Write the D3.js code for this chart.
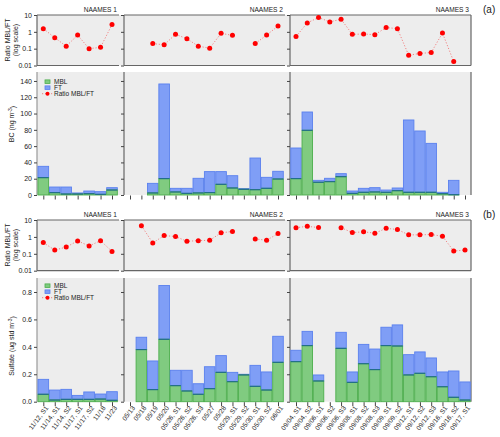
<!DOCTYPE html>
<html><head><meta charset="utf-8">
<script src="https://cdn.jsdelivr.net/npm/d3@7"></script>
<style>
body{margin:0;background:#fff}
svg{display:block}
text{font-family:"Liberation Sans",Arial,Helvetica,sans-serif;fill:#222}
</style>
</head><body><svg id="c" width="500" height="437"></svg>
<script>
// ---------------- DATA ----------------
const campaigns = ["NAAMES 1","NAAMES 2","NAAMES 3"];
const dates1 = ["11/12, S1","11/14, S1","11/14, S2","11/17, S1","11/17, S2","11/18","11/23"];
const dates2 = ["05/13","05/18","05/19","05/20","05/26, S1","05/26, S2","05/26, S3","05/27","05/28","05/29, S1","05/29, S2","05/30, S1","05/30, S2","06/01"];
const dates3 = ["09/04, S1","09/04, S2","09/06, S1","09/06, S2","09/06, S3","09/08, S1","09/08, S2","09/08, S3","09/09, S1","09/09, S2","09/12, S1","09/12, S2","09/12, S3","09/16, S1","09/16, S2","09/17, S1"];

// (a) Black carbon, ng m-3
const bcMBL1 = [21.3, 2.9, 1.2, 1.2, 1.6, 0.8, 6.1];
const bcFT1  = [13.9, 6.9, 8.6, 1.3, 3.3, 3.3, 2.9];
const bcRatio1 = [1.55, 0.45, 0.14, 0.64, 0.10, 0.12, 2.7];
const bcMBL2 = [null, null, 2.5, 20.1, 3.7, 2.0, 2.5, 2.9, 13.1, 8.6, 7.0, 6.5, 8.2, 19.6];
const bcFT2  = [null, null, 11.8, 116.2, 4.5, 6.2, 18.0, 25.8, 15.6, 15.1, 0.8, 38.9, 13.5, 9.5];
const bcRatio2 = [null, null, 0.20, 0.17, 0.71, 0.39, 0.14, 0.107, 0.81, 0.62, null, 0.20, 0.64, 2.2];
const bcMBL3 = [20.1, 79.4, 15.6, 16.4, 22.5, 2.0, 3.3, 3.7, 3.3, 5.3, 3.3, 3.3, 3.3, 1.6, 0.4, null];
const bcFT3  = [37.6, 22.5, 2.4, 4.1, 3.7, 2.9, 4.9, 5.3, 2.8, 3.3, 88.8, 75.3, 60.1, 1.7, 17.6, null];
const bcRatio3 = [0.52, 3.4, 7.1, 3.9, 5.6, 0.71, 0.74, 0.68, 1.8, 1.55, 0.041, 0.052, 0.059, 0.85, 0.017, null];

// (b) Sulfate, ug std m-3
const so4MBL1 = [0.054, 0.012, 0.017, 0.017, 0.017, 0.019, 0.010];
const so4FT1  = [0.109, 0.073, 0.073, 0.029, 0.054, 0.037, 0.063];
const so4Ratio1 = [0.46, 0.166, 0.25, 0.58, 0.29, 0.60, 0.138];
const so4MBL2 = [null, 0.38, 0.088, 0.455, 0.117, 0.078, 0.054, 0.095, 0.214, 0.146, 0.195, 0.112, 0.085, 0.287];
const so4FT2  = [null, 0.09, 0.209, 0.392, 0.112, 0.151, 0.077, 0.16, 0.122, 0.068, 0.005, 0.153, 0.132, 0.19];
const so4Ratio2 = [null, 4.6, 0.44, 1.2, 1.05, 0.55, 0.60, 0.63, 1.74, 2.1, null, 0.76, 0.63, 1.58];
const so4MBL3 = [0.292, 0.409, 0.151, null, 0.389, 0.141, 0.277, 0.234, 0.409, 0.406, 0.195, 0.207, 0.182, 0.109, 0.032, 0.012];
const so4FT3  = [0.083, 0.104, 0.044, null, 0.117, 0.076, 0.141, 0.15, 0.134, 0.154, 0.148, 0.156, 0.137, 0.108, 0.192, 0.132];
const so4Ratio3 = [3.5, 4.2, 3.6, null, 3.5, 1.8, 2.0, 1.66, 3.2, 2.75, 1.32, 1.32, 1.38, 1.1, 0.145, 0.166];

const ratioTicks = [0.01, 0.1, 1, 10];
const bcTicks = [0, 20, 40, 60, 80, 100, 120, 140];
const so4Ticks = [0.0, 0.2, 0.4, 0.6, 0.8];
const legendLabels = ["MBL", "FT", "Ratio MBL/FT"];

// ---------------- LAYOUT ----------------
const svg = d3.select("#c");
const BG = "#ededed", FRAME = "#666";
const GREEN = "#80cb80", GREEN_S = "#4cae4c", BLUE = "#7f9ef6", BLUE_S = "#5a80ee", SEAM = "#1f6a8c";
const cols = [
  {x0: 37, x1: 124, first: 43.3, last: 112, dates: dates1},
  {x0: 124, x1: 290, first: 130, last: 278, dates: dates2},
  {x0: 290, x1: 471, first: 296, last: 465, dates: dates3}
];
const panels = [
  {tag: "(a)", tagY: 13, rTop: 15, rBot: 65.5, bTop: 72, bBot: 195, bMax: 151,
   mbl: [bcMBL1, bcMBL2, bcMBL3], ft: [bcFT1, bcFT2, bcFT3], ratio: [bcRatio1, bcRatio2, bcRatio3],
   ticks: bcTicks, fmt: d => String(d), ylab: ["BC (ng m", ")"], ylabY: 124, rLabY: 40, legY: 81.7, showX: false},
  {tag: "(b)", tagY: 218, rTop: 220, rBot: 270.7, bTop: 278, bBot: 401.7, bMax: 0.902,
   mbl: [so4MBL1, so4MBL2, so4MBL3], ft: [so4FT1, so4FT2, so4FT3], ratio: [so4Ratio1, so4Ratio2, so4Ratio3],
   ticks: so4Ticks, fmt: d3.format(".1f"), ylab: ["Sulfate (ug std m", ")"], ylabY: 346, rLabY: 245, legY: 285.7, showX: true}
];

function styleAxis(g) {
  g.select(".domain").remove();
  g.selectAll(".tick line").attr("stroke", "#444").attr("stroke-width", 1);
  g.selectAll(".tick text").attr("font-size", 7).attr("fill", "#222")
    .attr("font-family", '"Liberation Sans",Arial,sans-serif');
}

panels.forEach(p => {
  const G = svg.append("g");
  // backgrounds
  G.append("rect").attr("x", cols[0].x0).attr("y", p.rTop).attr("width", cols[2].x1 - cols[0].x0)
    .attr("height", p.rBot - p.rTop).attr("fill", BG);
  G.append("rect").attr("x", cols[0].x0).attr("y", p.bTop).attr("width", cols[2].x1 - cols[0].x0)
    .attr("height", p.bBot - p.bTop).attr("fill", BG);

  const yR = d3.scaleLog().domain([0.01, 10]).range([p.rBot, p.rTop]);
  const yB = d3.scaleLinear().domain([0, p.bMax]).range([p.bBot, p.bTop]);

  cols.forEach((c, ci) => {
    const n = c.dates.length;
    const x = d3.scaleLinear().domain([0, n - 1]).range([c.first, c.last]);
    const step = (c.last - c.first) / (n - 1);
    const bw = step * 0.93;
    const right = ci < 2 ? c.x1 - 5 : c.x1;

    // ratio frame
    G.append("line").attr("x1", c.x0).attr("x2", right).attr("y1", p.rTop).attr("y2", p.rTop).attr("stroke", FRAME).attr("stroke-width", 1.2);
    G.append("line").attr("x1", c.x0).attr("x2", right).attr("y1", p.rBot).attr("y2", p.rBot).attr("stroke", FRAME).attr("stroke-width", 1.2);
    G.append("line").attr("x1", c.x0).attr("x2", c.x0).attr("y1", p.rTop).attr("y2", p.rBot).attr("stroke", FRAME).attr("stroke-width", 1.2);
    if (ci === 2) G.append("line").attr("x1", c.x1).attr("x2", c.x1).attr("y1", p.rTop).attr("y2", p.rBot).attr("stroke", FRAME).attr("stroke-width", 1.2);
    // bar frame (left line, right line for last)
    G.append("line").attr("x1", c.x0).attr("x2", c.x0).attr("y1", p.bTop).attr("y2", p.bBot)
      .attr("stroke", ci === 0 ? "#999" : FRAME).attr("stroke-width", 1.2);
    if (ci === 2) G.append("line").attr("x1", c.x1).attr("x2", c.x1).attr("y1", p.bTop).attr("y2", p.bBot).attr("stroke", FRAME).attr("stroke-width", 1.2);

    // campaign label
    G.append("text").attr("x", right - 2).attr("y", p.rTop - 3).attr("text-anchor", "end")
      .attr("font-size", 6.6).text(campaigns[ci]);

    // y axes
    const ra = d3.axisLeft(yR).tickValues(ratioTicks).tickSize(3).tickPadding(2)
      .tickFormat(ci === 0 ? (d => String(d)) : "");
    G.append("g").attr("transform", `translate(${c.x0},0)`).call(ra).call(styleAxis);
    const ba = d3.axisLeft(yB).tickValues(p.ticks).tickSize(3).tickPadding(2)
      .tickFormat(ci === 0 ? p.fmt : "");
    G.append("g").attr("transform", `translate(${c.x0},0)`).call(ba).call(styleAxis);

    // bars
    const mbl = p.mbl[ci], ft = p.ft[ci];
    const bars = G.append("g");
    d3.range(n).forEach(i => {
      if (mbl[i] == null) return;
      const m = mbl[i], f = ft[i];
      bars.append("rect").attr("x", x(i) - bw / 2).attr("width", bw)
        .attr("y", yB(m + f)).attr("height", yB(m) - yB(m + f))
        .attr("fill", BLUE).attr("stroke", BLUE_S).attr("stroke-width", 0.9);
      bars.append("rect").attr("x", x(i) - bw / 2).attr("width", bw)
        .attr("y", yB(m)).attr("height", yB(0) - yB(m))
        .attr("fill", GREEN).attr("stroke", GREEN_S).attr("stroke-width", 0.9);
      bars.append("line").attr("x1", x(i) - bw / 2).attr("x2", x(i) + bw / 2)
        .attr("y1", yB(m)).attr("y2", yB(m)).attr("stroke", SEAM).attr("stroke-width", 1.1);
    });

    // x ticks
    const xa = d3.axisBottom(x).tickValues(d3.range(n)).tickSize(4).tickPadding(2).tickFormat("");
    const xg = G.append("g").attr("transform", `translate(0,${p.bBot + 0.5})`).call(xa).call(styleAxis);
    if (p.showX) {
      G.append("g").selectAll("text").data(c.dates).join("text")
        .attr("transform", (d, i) => `translate(${x(i) + 3.5},${p.bBot + 5})rotate(-53)`)
        .attr("text-anchor", "end").attr("dy", "0.35em").attr("font-size", 6.6).text(d => d);
    }

    // ratio line + points
    const ratio = p.ratio[ci];
    const line = d3.line().defined(d => d != null).x((d, i) => x(i)).y(d => yR(d));
    G.append("path").attr("d", line(ratio)).attr("fill", "none").attr("stroke", "#f07878")
      .attr("stroke-width", 0.9).attr("stroke-dasharray", "1.2,1.8");
    G.append("g").selectAll("circle").data(ratio.map((v, i) => [v, i]).filter(d => d[0] != null)).join("circle")
      .attr("cx", d => x(d[1])).attr("cy", d => yR(d[0])).attr("r", 2.5).attr("fill", "#ff0000");
  });

  // panel tag
  G.append("text").attr("x", 483).attr("y", p.tagY).attr("font-size", 10).text(p.tag);

  // axis titles
  const rc = (p.rTop + p.rBot) / 2;
  G.append("text").attr("transform", `translate(9.5,${p.rLabY})rotate(-90)`).attr("text-anchor", "middle")
    .attr("font-size", 7).text("Ratio MBL/FT");
  G.append("text").attr("transform", `translate(17.5,${p.rLabY})rotate(-90)`).attr("text-anchor", "middle")
    .attr("font-size", 7).text("(log scale)");
  const yt = G.append("text").attr("transform", `translate(14,${p.ylabY})rotate(-90)`).attr("text-anchor", "middle")
    .attr("font-size", 7);
  yt.append("tspan").text(p.ylab[0]);
  yt.append("tspan").attr("dy", "-0.45em").attr("font-size", 5).text("-3");
  yt.append("tspan").attr("dy", "0.45em").text(p.ylab[1]);

  // legend
  const L = G.append("g");
  const lx = 45;
  L.append("rect").attr("x", lx).attr("y", p.legY - 1.8).attr("width", 5).attr("height", 3.6)
    .attr("fill", GREEN).attr("stroke", GREEN_S).attr("stroke-width", 0.8);
  L.append("rect").attr("x", lx).attr("y", p.legY + 6 - 1.8).attr("width", 5).attr("height", 3.6)
    .attr("fill", BLUE).attr("stroke", BLUE_S).attr("stroke-width", 0.8);
  L.append("line").attr("x1", lx - 3).attr("x2", lx + 8).attr("y1", p.legY + 12).attr("y2", p.legY + 12)
    .attr("stroke", "#f07878").attr("stroke-width", 0.9).attr("stroke-dasharray", "1.2,1.8");
  L.append("circle").attr("cx", lx + 2.5).attr("cy", p.legY + 12).attr("r", 2).attr("fill", "#ff0000");
  L.selectAll("text").data(legendLabels).join("text")
    .attr("x", lx + 9).attr("y", (d, i) => p.legY + i * 6).attr("dy", "0.35em")
    .attr("font-size", 6.5).text(d => d);
});
</script>
</body></html>
